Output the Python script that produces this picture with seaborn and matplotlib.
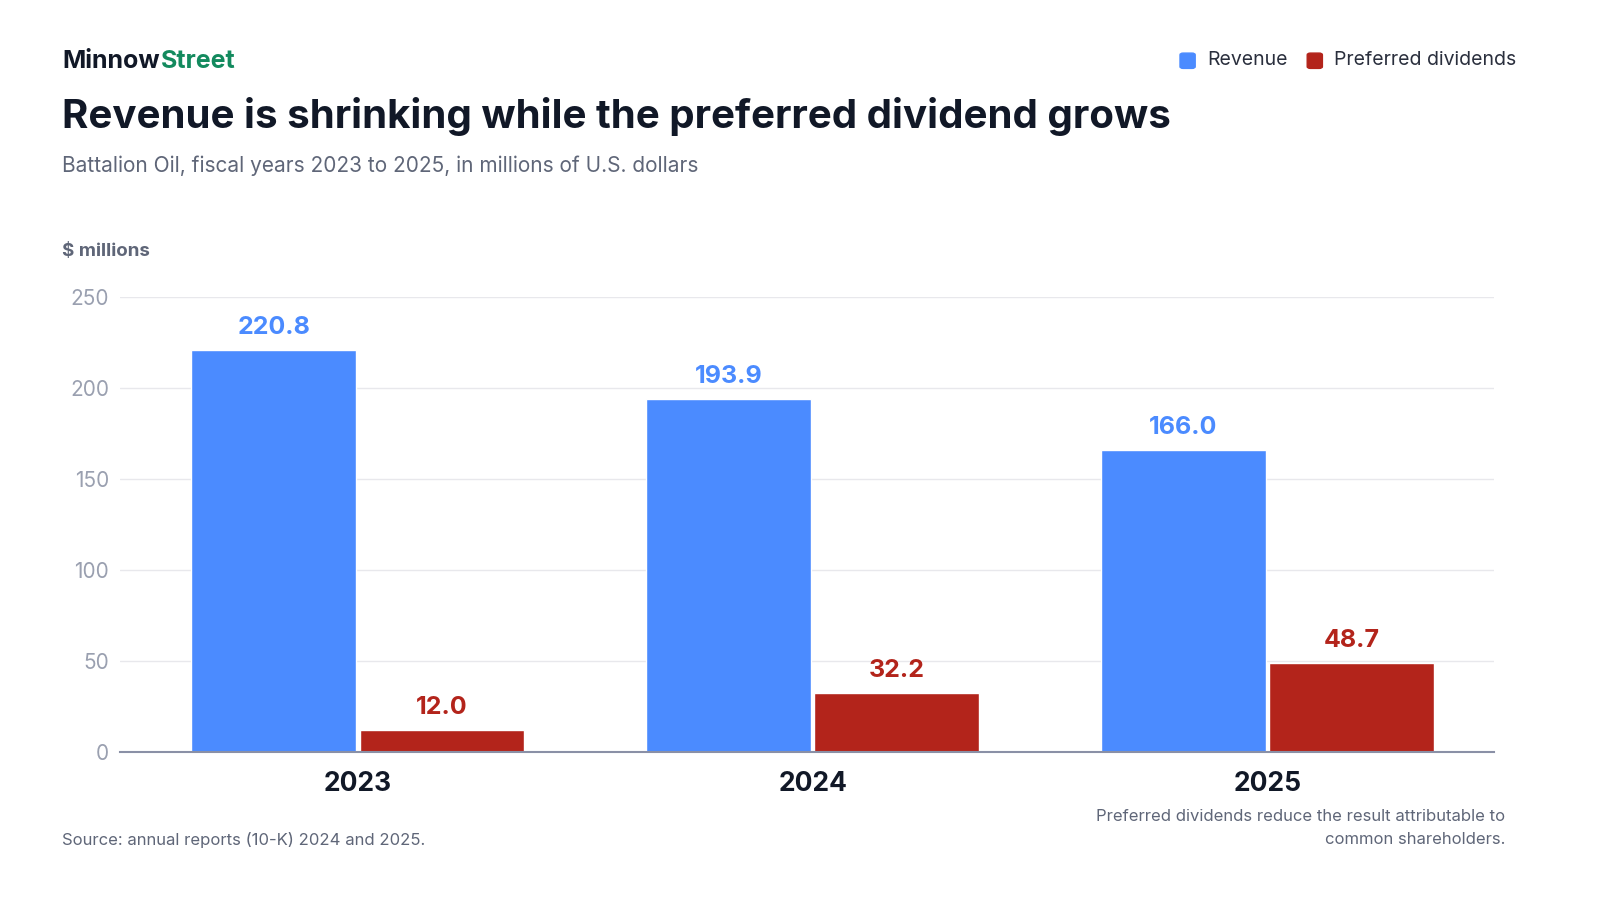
import pandas as pd
import matplotlib.pyplot as plt
import seaborn as sns

years = ["2023", "2024", "2025"]
revenue = [220.8, 193.9, 166.0]
pref_div = [12.0, 32.2, 48.7]
series = ["Revenue", "Preferred dividends"]
colors = ["#4B8BFF", "#B3241B"]

df = pd.DataFrame({
    "Year": years * 2,
    "Value": revenue + pref_div,
    "Series": [series[0]] * 3 + [series[1]] * 3,
})

sns.set_style("white")
plt.rcParams["font.family"] = ["Inter", "DejaVu Sans"]

fig = plt.figure(figsize=(16, 9), dpi=100)
ax = fig.add_axes([0.075, 0.1644, 0.859, 0.5056])
sns.barplot(data=df, x="Year", y="Value", hue="Series", palette=colors,
            width=0.74, gap=0.02, saturation=1, legend=False, ax=ax)

for cont, col in zip(ax.containers, colors):
    ax.bar_label(cont, fmt="%.1f", padding=8, color=col, fontsize=18, fontweight="bold")

ax.set_xlim(-0.523, 2.499)
ax.set_ylim(0, 250)
ax.set_yticks([0, 50, 100, 150, 200, 250])
ax.grid(axis="y", color="#e8e8ec", linewidth=1)
ax.set_axisbelow(True)
for s in ["top", "right", "left"]:
    ax.spines[s].set_visible(False)
ax.spines["bottom"].set_color("#8a90a6")
ax.spines["bottom"].set_linewidth(1.5)
ax.tick_params(axis="y", length=0, labelsize=15, labelcolor="#9aa0b0", pad=8)
ax.tick_params(axis="x", length=0, labelsize=19, pad=14)
for t in ax.get_xticklabels():
    t.set_fontweight("bold")
    t.set_color("#111827")
ax.set_xlabel("")
ax.set_ylabel("")

fig.text(0.039, 0.932, "Minnow", fontsize=18, fontweight="bold", color="#111827", va="center")
fig.text(0.1005, 0.932, "Street", fontsize=18, fontweight="bold", color="#138a5e", va="center")
fig.text(0.039, 0.871, "Revenue is shrinking while the preferred dividend grows",
         fontsize=29, fontweight="bold", color="#111827", va="center")
fig.text(0.039, 0.816, "Battalion Oil, fiscal years 2023 to 2025, in millions of U.S. dollars",
         fontsize=15, color="#5f6678", va="center")
fig.text(0.039, 0.720, "$ millions", fontsize=13.5, fontweight="bold", color="#5f6678", va="center")
fig.text(0.039, 0.067, "Source: annual reports (10-K) 2024 and 2025.", fontsize=12, color="#5f6678", va="center")
fig.text(0.941, 0.080, "Preferred dividends reduce the result attributable to\ncommon shareholders.",
         fontsize=12, color="#5f6678", ha="right", va="center", linespacing=1.6)

# legend
from matplotlib.patches import FancyBboxPatch
lx = [0.7375, 0.817]
for x, lab, col in zip(lx, series, colors):
    fig.patches.append(FancyBboxPatch((x, 0.924), 0.0095, 0.017, boxstyle="round,pad=0,rounding_size=0.002",
                                      transform=fig.transFigure, color=col))
    fig.text(x + 0.017, 0.933, lab, fontsize=14, color="#2a2f3d", va="center")

fig.savefig("out.png", dpi=100)
